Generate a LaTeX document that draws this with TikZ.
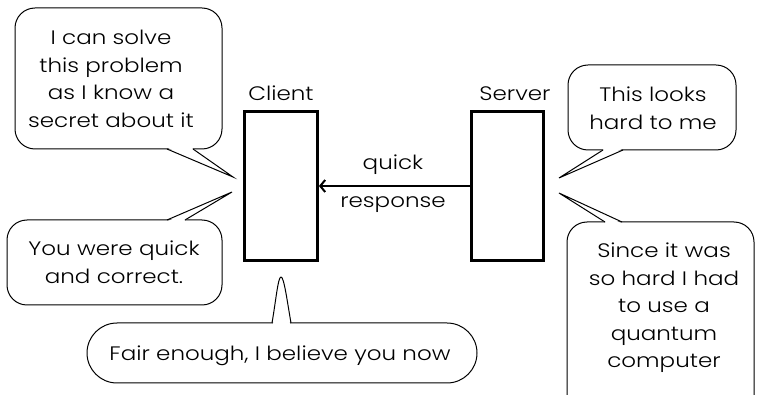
\documentclass[tikz,border=0pt]{standalone}
\usepackage{fontspec}
\IfFontExistsTF{Poppins Light}{\setmainfont{Poppins Light}[FakeStretch=1.18]}{\setmainfont{Poppins}[FakeStretch=1.18]}
\usetikzlibrary{arrows.meta}
\begin{document}
\begin{tikzpicture}[x=1pt,y=-1pt,
  txt/.style={font=\fontsize{19.5}{27.5}\selectfont, align=center, inner sep=0pt},
  bubble/.style={draw, line width=1pt, fill=white, rounded corners=20pt},
  tailline/.style={draw, line width=1pt, line join=miter},
  party/.style={draw, line width=2.8pt, inner sep=0pt}]
\clip (0,0) rectangle (758,395);
\fill[white] (0,0) rectangle (758,395);

% boxes
\node[party, minimum width=73pt, minimum height=149pt] (client) at (281,186) {};
\node[party, minimum width=72pt, minimum height=149pt] (server) at (507.5,186) {};
\node[txt, anchor=base] (clientlbl) at (281,101) {Client};
\node[txt, anchor=base] (serverlbl) at (515,101) {Server};
\draw[line width=2.8pt, -{Straight Barb[length=5pt,width=12pt,line width=2pt]}] (server.west) -- (client.east);
\node[txt, anchor=base] (quick) at (393,170) {quick};
\node[txt, anchor=base] (resp) at (393,208) {response};

% top-left bubble
\draw[bubble] (15,8) rectangle (222,149);
\fill[white] (168,148) -- (233,177) -- (192,148) -- cycle;
\draw[tailline] (167,149) -- (233,177) -- (193,149);
\node[txt] (tltext) at (111,79) {I can solve\\this problem\\as I know a\\secret about it};

% bottom-left bubble
\draw[bubble] (7,220) rectangle (222,305);
\fill[white] (168,221) -- (232,192) -- (184,221) -- cycle;
\draw[tailline] (167,220) -- (232,192) -- (185,220);
\node[txt] (bltext) at (114,262) {You were quick\\and correct.};

% bottom bubble
\draw[bubble, rounded corners=30pt] (87,323) rectangle (477,383);
\fill[white] (273,324) .. controls (277,300) and (278,277) .. (281,277) .. controls (284,277) and (286,300) .. (290,324) -- cycle;
\draw[tailline] (272,323) .. controls (276,300) and (278,277) .. (281,277) .. controls (284,277) and (287,300) .. (291,323);
\node[txt, anchor=base] (btext) at (280,360) {Fair enough, I believe you now};

% top-right bubble
\draw[bubble] (568,65) rectangle (736,150);
\fill[white] (604,149) -- (559,178) -- (622,149) -- cycle;
\draw[tailline] (603,150) -- (559,178) -- (623,150);
\node[txt] (trtext) at (653,108) {This looks\\hard to me};

% bottom-right bubble
\draw[bubble] (567,222) rectangle (754,420);
\fill[white] (606,223) -- (559,193) -- (621,223) -- cycle;
\draw[tailline] (605,222) -- (559,193) -- (622,222);
\node[txt] (brtext) at (664,308) {Since it was\\so hard I had\\to use a\\quantum\\computer};
\end{tikzpicture}
\end{document}
